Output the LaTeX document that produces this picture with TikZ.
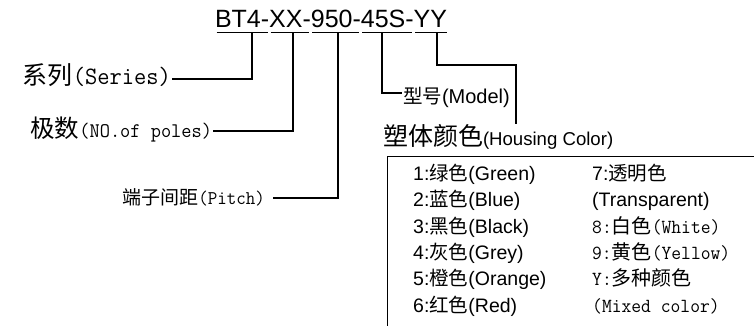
\documentclass[tikz,border=0pt]{standalone}
\usepackage{fontspec}
\setmainfont{Liberation Sans}
\newfontfamily\cjkfont{Noto Sans CJK SC}
\newfontfamily\halffont[FakeStretch=0.952]{Latin Modern Mono}
\newcommand\zh[1]{{\cjkfont #1}}
\newcommand\zhs[2]{{\cjkfont\fontsize{#1}{#1}\selectfont #2}}
\newcommand\mon[2]{{\halffont\fontsize{#1}{#1}\selectfont #2}}
\newcommand\san[2]{{\fontsize{#1}{#1}\selectfont #2}}
\begin{document}
\begin{tikzpicture}[x=1pt,y=-1pt,
  lbl/.style={inner sep=0pt, outer sep=0pt},
  grp/.style={inner sep=0pt, outer sep=0pt, anchor=base west, font=\fontsize{25}{25}\selectfont},
  uline/.style={line width=1.3pt},
  conn/.style={line width=1.6pt},
  frame/.style={line width=0.8pt},
  item/.style={inner sep=0pt, anchor=base west, font=\fontsize{19.5}{20}\selectfont}]
\useasboundingbox (0,0) rectangle (754,326);

% title groups
\node[grp] (g1) at (215,28) {BT4-};
\node[grp] (g2) at (g1.base east) {XX-};
\node[grp] (g3) at (g2.base east) {950-};
\node[grp] (g4) at (g3.base east) {45S-};
\node[grp] (g5) at (g4.base east) {YY};
\foreach \g in {g1,g2,g3,g4}
  \draw[uline] ([xshift=1.5pt,yshift=-4.5pt]\g.base west) -- ([xshift=-1.5pt,yshift=-4.5pt]\g.base east);
\draw[uline] ([xshift=1.5pt,yshift=-4.5pt]g5.base west) -- ([xshift=0pt,yshift=-4.5pt]g5.base east);

% drop points
\coordinate (d1) at (252,32.5);
\coordinate (d2) at (293,32.5);
\coordinate (d3) at (338,32.5);
\coordinate (d4) at (382,32.5);
\coordinate (d5) at (437,32.5);
\coordinate (yyturn) at (516,65);

% labels
\node[lbl, anchor=base east] (series) at (171,85) {\zhs{25}{系列}\mon{25}{(Series)}};
\node[lbl, anchor=base east] (poles) at (212,137) {\zhs{24.5}{极数}\mon{20.8}{(NO.of poles)}};
\node[lbl, anchor=base east] (pitch) at (265,204.5) {\zhs{19}{端子间距}\mon{19.4}{(Pitch)}};
\node[lbl, anchor=base west] (model) at (403,103) {\zhs{19.5}{型号}\san{20}{(Model)}};
\node[lbl, anchor=base west] (housing) at (383,145) {\zhs{25}{塑体颜色}\san{18.6}{(Housing Color)}};

% connectors
\draw[conn] (d1) |- ([xshift=1pt,yshift=6pt]series.base east);
\draw[conn] (d2) |- ([xshift=1pt,yshift=6pt]poles.base east);
\draw[conn] (d3) |- ([xshift=8pt,yshift=6.5pt]pitch.base east);
\draw[conn] (d4) |- ([xshift=-1pt,yshift=10pt]model.base west);
\draw[conn] (d5) |- (yyturn) -- (yyturn |- housing.north);

% colour table frame
\draw[frame] (754,156.5) -- (387,156.5) -- (387,326);

% column 1
\node[item] (c1) at (413,180) {1:\zh{绿色}(Green)};
\node[item] (c2) at (413,206.5) {2:\zh{蓝色}(Blue)};
\node[item] (c3) at (413,233) {3:\zh{黑色}(Black)};
\node[item] (c4) at (413,259) {4:\zh{灰色}(Grey)};
\node[item] (c5) at (413,285.5) {5:\zh{橙色}(Orange)};
\node[item] (c6) at (413,312) {6:\zh{红色}(Red)};

% column 2
\node[item] (e1) at (592,180) {7:\zh{透明色}};
\node[item] (e2) at (592,206.5) {(Transparent)};
\node[item] (e3) at (592,233) {\mon{20}{8:}\zhs{20}{白色}\mon{20}{(White)}};
\node[item] (e4) at (592,259) {\mon{20}{9:}\zhs{20}{黄色}\mon{20}{(Yellow)}};
\node[item] (e5) at (592,285.5) {\mon{20}{Y:}\zhs{20}{多种颜色}};
\node[item] (e6) at (592,312) {\mon{20}{(Mixed color)}};
\end{tikzpicture}
\end{document}
